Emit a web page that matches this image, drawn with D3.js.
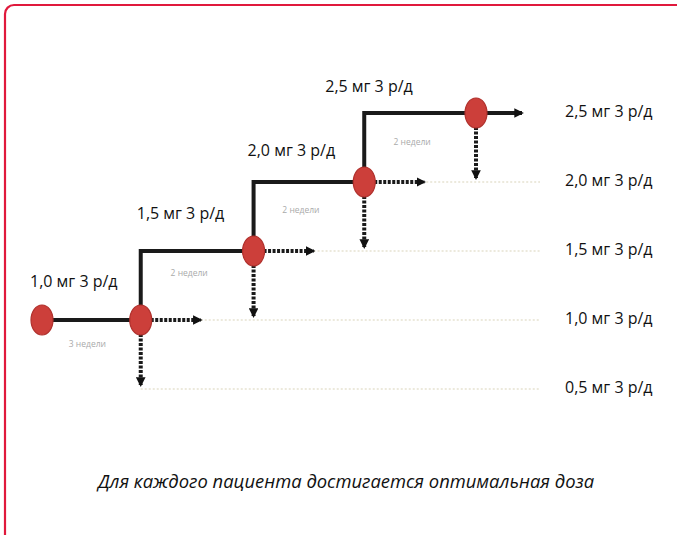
<!DOCTYPE html>
<html><head><meta charset="utf-8">
<script src="https://cdn.jsdelivr.net/npm/d3@7"></script>
<style>body{margin:0;background:#fff}svg{display:block}</style>
</head><body>
<script>
// Data
const doseLevels = [0.5, 1.0, 1.5, 2.0, 2.5];
const doseLabels = ["0,5 мг 3 р/д", "1,0 мг 3 р/д", "1,5 мг 3 р/д", "2,0 мг 3 р/д", "2,5 мг 3 р/д"];
const stepPos = [0, 0.91, 1.95, 2.97, 4];          // position of each titration point
const stepDose = [1.0, 1.0, 1.5, 2.0, 2.5];        // dose at each point
const stepLabels = ["1,0 мг 3 р/д", "1,5 мг 3 р/д", "2,0 мг 3 р/д", "2,5 мг 3 р/д"];
const intervalLabels = ["3 недели", "2 недели", "2 недели", "2 недели"];
const caption = "Для каждого пациента достигается оптимальная доза";

const W = 677, H = 535;
const svg = d3.select("body").append("svg").attr("width", W).attr("height", H);

svg.append("rect").attr("x", 5).attr("y", 5).attr("width", 800).attr("height", 700)
  .attr("rx", 9).attr("fill", "none").attr("stroke", "#e0193c").attr("stroke-width", 2.2);

const x = d3.scaleLinear().domain([0, 4]).range([42, 476]);
const y = d3.scaleLinear().domain([0.5, 2.5]).range([389, 113]);

const defs = svg.append("defs");
defs.append("marker").attr("id", "arr").attr("viewBox", "0 0 10 10").attr("refX", 8).attr("refY", 5)
  .attr("markerWidth", 2.4).attr("markerHeight", 2.4).attr("orient", "auto")
  .append("path").attr("d", "M0,0L10,5L0,10Z").attr("fill", "#111");

const g = svg.append("g");

// faint level guide lines
const guideStart = [x(stepPos[1]), x(stepPos[1]) + 60, x(stepPos[2]) + 60, x(stepPos[3]) + 58, null];
doseLevels.forEach((d, i) => {
  if (guideStart[i] == null) return;
  g.append("line").attr("x1", guideStart[i]).attr("x2", 540)
    .attr("y1", y(d)).attr("y2", y(d))
    .attr("stroke", "#ece9dc").attr("stroke-width", 2).attr("stroke-dasharray", "2,2");
});

// solid staircase
const path = d3.path();
path.moveTo(x(stepPos[0]), y(stepDose[0]));
for (let i = 1; i < stepPos.length; i++) {
  path.lineTo(x(stepPos[i]), y(stepDose[i]));
  if (i < stepPos.length - 1) path.lineTo(x(stepPos[i]), y(stepDose[i + 1]));
}
g.append("path").attr("d", path.toString()).attr("fill", "none")
  .attr("stroke", "#1a1a1a").attr("stroke-width", 4).attr("stroke-linejoin", "miter");
// final arrow
g.append("line").attr("x1", x(stepPos[4])).attr("x2", x(stepPos[4]) + 46)
  .attr("y1", y(stepDose[4])).attr("y2", y(stepDose[4]))
  .attr("stroke", "#1a1a1a").attr("stroke-width", 4).attr("marker-end", "url(#arr)");

// dotted arrows: right & down from nodes 1..4
for (let i = 1; i < stepPos.length; i++) {
  const cx = x(stepPos[i]), cy = y(stepDose[i]);
  if (i < stepPos.length - 1) {
    g.append("line").attr("x1", cx + 10).attr("x2", cx + 60).attr("y1", cy).attr("y2", cy)
      .attr("stroke", "#1a1a1a").attr("stroke-width", 4).attr("stroke-dasharray", "3,1.5")
      .attr("marker-end", "url(#arr)");
  }
  g.append("line").attr("x1", cx).attr("x2", cx).attr("y1", cy + 14).attr("y2", y(stepDose[i] - 0.5) - 4)
    .attr("stroke", "#1a1a1a").attr("stroke-width", 4).attr("stroke-dasharray", "3,1.5")
    .attr("marker-end", "url(#arr)");
}

// nodes
stepPos.forEach((p, i) => {
  g.append("ellipse").attr("cx", x(p)).attr("cy", y(stepDose[i])).attr("rx", 11).attr("ry", 15)
    .attr("fill", "#cc3f3a").attr("stroke", "#b0302c").attr("stroke-width", 1.2);
});

// step dose labels (above each horizontal segment)
const lblOff = [[-12, -37], [-4, -36], [-6, -30], [-39, -25]];
stepLabels.forEach((t, i) => {
  const lx = x(stepPos[i]) + lblOff[i][0], ly = y(stepDose[i + 1]) + lblOff[i][1];
  g.append("text").attr("x", lx).attr("y", ly).text(t)
    .attr("font-family", "'Open Sans', sans-serif").attr("font-size", 16).attr("fill", "#111")
    .attr("dominant-baseline", "middle");
});

// interval labels
const ivOff = [25, 23, 29, 30];
intervalLabels.forEach((t, i) => {
  const mx = (x(stepPos[i]) + x(stepPos[i + 1])) / 2 - (i === 0 ? 4 : 8);
  const my = y(stepDose[i + 1]) + ivOff[i];
  g.append("text").attr("x", mx).attr("y", my).text(t).attr("text-anchor", "middle")
    .attr("font-family", "'Open Sans', sans-serif").attr("font-size", 8.5).attr("fill", "#aaaaaa")
    .attr("dominant-baseline", "middle");
});

// right dose labels
doseLevels.forEach((d, i) => {
  g.append("text").attr("x", 565).attr("y", y(d)).text(doseLabels[i])
    .attr("font-family", "'Open Sans', sans-serif").attr("font-size", 16).attr("fill", "#111")
    .attr("dominant-baseline", "middle");
});

// caption
svg.append("text").attr("x", 346).attr("y", 483).text(caption).attr("text-anchor", "middle")
  .attr("font-family", "'Open Sans', sans-serif").attr("font-style", "italic").attr("font-size", 18.4)
  .attr("fill", "#111").attr("dominant-baseline", "middle");
</script>
</body></html>
